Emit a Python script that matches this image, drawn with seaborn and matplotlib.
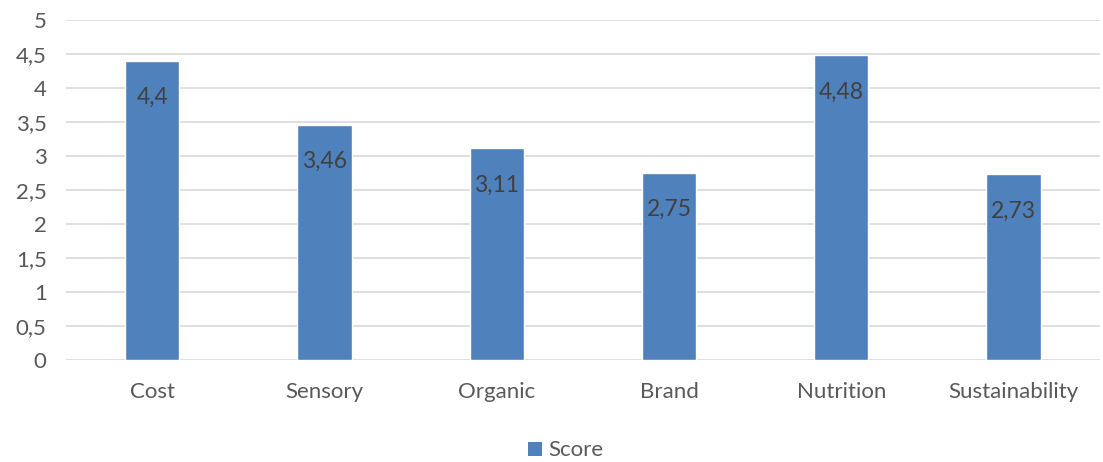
import matplotlib
matplotlib.use("Agg")
import matplotlib.pyplot as plt
import seaborn as sns
import pandas as pd
from matplotlib.patches import Patch

categories = ["Cost", "Sensory", "Organic", "Brand", "Nutrition", "Sustainability"]
scores = [4.4, 3.46, 3.11, 2.75, 4.48, 2.73]
score_labels = ["4,4", "3,46", "3,11", "2,75", "4,48", "2,73"]
y_ticks = [0, 0.5, 1, 1.5, 2, 2.5, 3, 3.5, 4, 4.5, 5]
y_tick_labels = ["0", "0,5", "1", "1,5", "2", "2,5", "3", "3,5", "4", "4,5", "5"]

sns.set_theme(style="white")
plt.rcParams["font.family"] = ["Lato", "DejaVu Sans"]

text_color = "#595959"
bar_color = "#4F81BD"
grid_color = "#D9D9D9"

df = pd.DataFrame({"category": categories, "score": scores})

fig = plt.figure(figsize=(11.03, 4.62), dpi=100)
ax = fig.add_axes([0.06, 0.221, 0.937, 0.736])

sns.barplot(data=df, x="category", y="score", color=bar_color, saturation=1,
            width=0.315, ax=ax, zorder=3)

ax.set_ylim(0, 5)
ax.set_yticks(y_ticks)
ax.set_yticklabels(y_tick_labels)
ax.yaxis.grid(True, color=grid_color, linewidth=1.2, zorder=0)
ax.set_axisbelow(True)
for s in ax.spines.values():
    s.set_visible(False)
ax.tick_params(axis="both", length=0, labelsize=16, colors=text_color)
ax.tick_params(axis="x", pad=16)
ax.tick_params(axis="y", pad=14)
ax.set_xlabel("")
ax.set_ylabel("")

for i, (v, lab) in enumerate(zip(scores, score_labels)):
    ax.annotate(lab, xy=(i, v), xytext=(0, -19), textcoords="offset points",
                ha="center", va="top", fontsize=16.5, color="#404040", zorder=4)

handle = Patch(facecolor=bar_color, edgecolor="none")
fig.legend([handle], ["Score"], loc="center", bbox_to_anchor=(0.513, 0.025),
           frameon=False, fontsize=16, labelcolor=text_color,
           handlelength=0.6, handleheight=0.6, handletextpad=0.3)

fig.savefig("out.png", dpi=100, facecolor="white")
